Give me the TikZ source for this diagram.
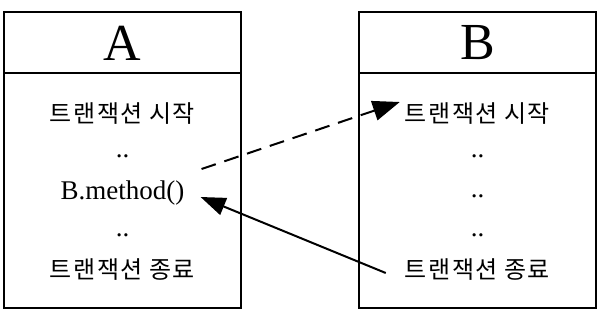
\documentclass[tikz,border=0pt]{standalone}
\usepackage{fontspec}
\setmainfont{Liberation Serif}
\newfontfamily\kr{Noto Sans CJK KR}[LetterSpace=6]
\usetikzlibrary{arrows.meta}
\tikzset{
  box/.style={draw, line width=2pt, minimum width=237pt, inner sep=0pt},
  head/.style={font=\fontsize{52}{60}\selectfont},
  krtext/.style={inner sep=0pt, font=\kr\fontsize{24}{28}\selectfont},
  latext/.style={inner sep=0pt, font=\fontsize{27}{31}\selectfont},
  callarrow/.style={line width=2pt, dash pattern=on 15pt off 9pt, -{Triangle[length=27pt,width=20pt]}},
  retarrow/.style={line width=2pt, -{Triangle[length=25pt,width=18pt]}}
}
\begin{document}
\begin{tikzpicture}[x=1pt,y=-1pt]
\useasboundingbox (0,0) rectangle (607,329);
% box A
\node[box, minimum height=61pt] (Ah) at (122.5,42.5) {};
\node[box, minimum height=235pt] (Ab) at (122.5,190.5) {};
\node[head] (At) at (122.5,43) {A};
% box B
\node[box, minimum height=61pt] (Bh) at (477.5,42.5) {};
\node[box, minimum height=235pt] (Bb) at (477.5,190.5) {};
\node[head] (Bt) at (477.5,43) {B};
% A contents
\node[krtext] (As) at (122.5,114) {트랜잭션 시작};
\node[latext] (Ad1) at (122.5,156) {..};
\node[latext] (Am) at (122.5,193) {B.method()};
\node[latext] (Ad2) at (122.5,235) {..};
\node[krtext] (Ae) at (122.5,270) {트랜잭션 종료};
% B contents
\node[krtext] (Bs) at (477.5,114) {트랜잭션 시작};
\node[latext] (Bd1) at (477.5,156) {..};
\node[latext] (Bd2) at (477.5,196) {..};
\node[latext] (Bd3) at (477.5,235) {..};
\node[krtext] (Be) at (477.5,270) {트랜잭션 종료};
% arrows
\draw[callarrow] ([xshift=17pt,yshift=24pt]Am.east) -- ([xshift=-5pt,yshift=12pt]Bs.west);
\draw[retarrow] ([xshift=-19pt,yshift=-3pt]Be.west) -- ([xshift=16pt,yshift=-4pt]Am.east);
\end{tikzpicture}
\end{document}
